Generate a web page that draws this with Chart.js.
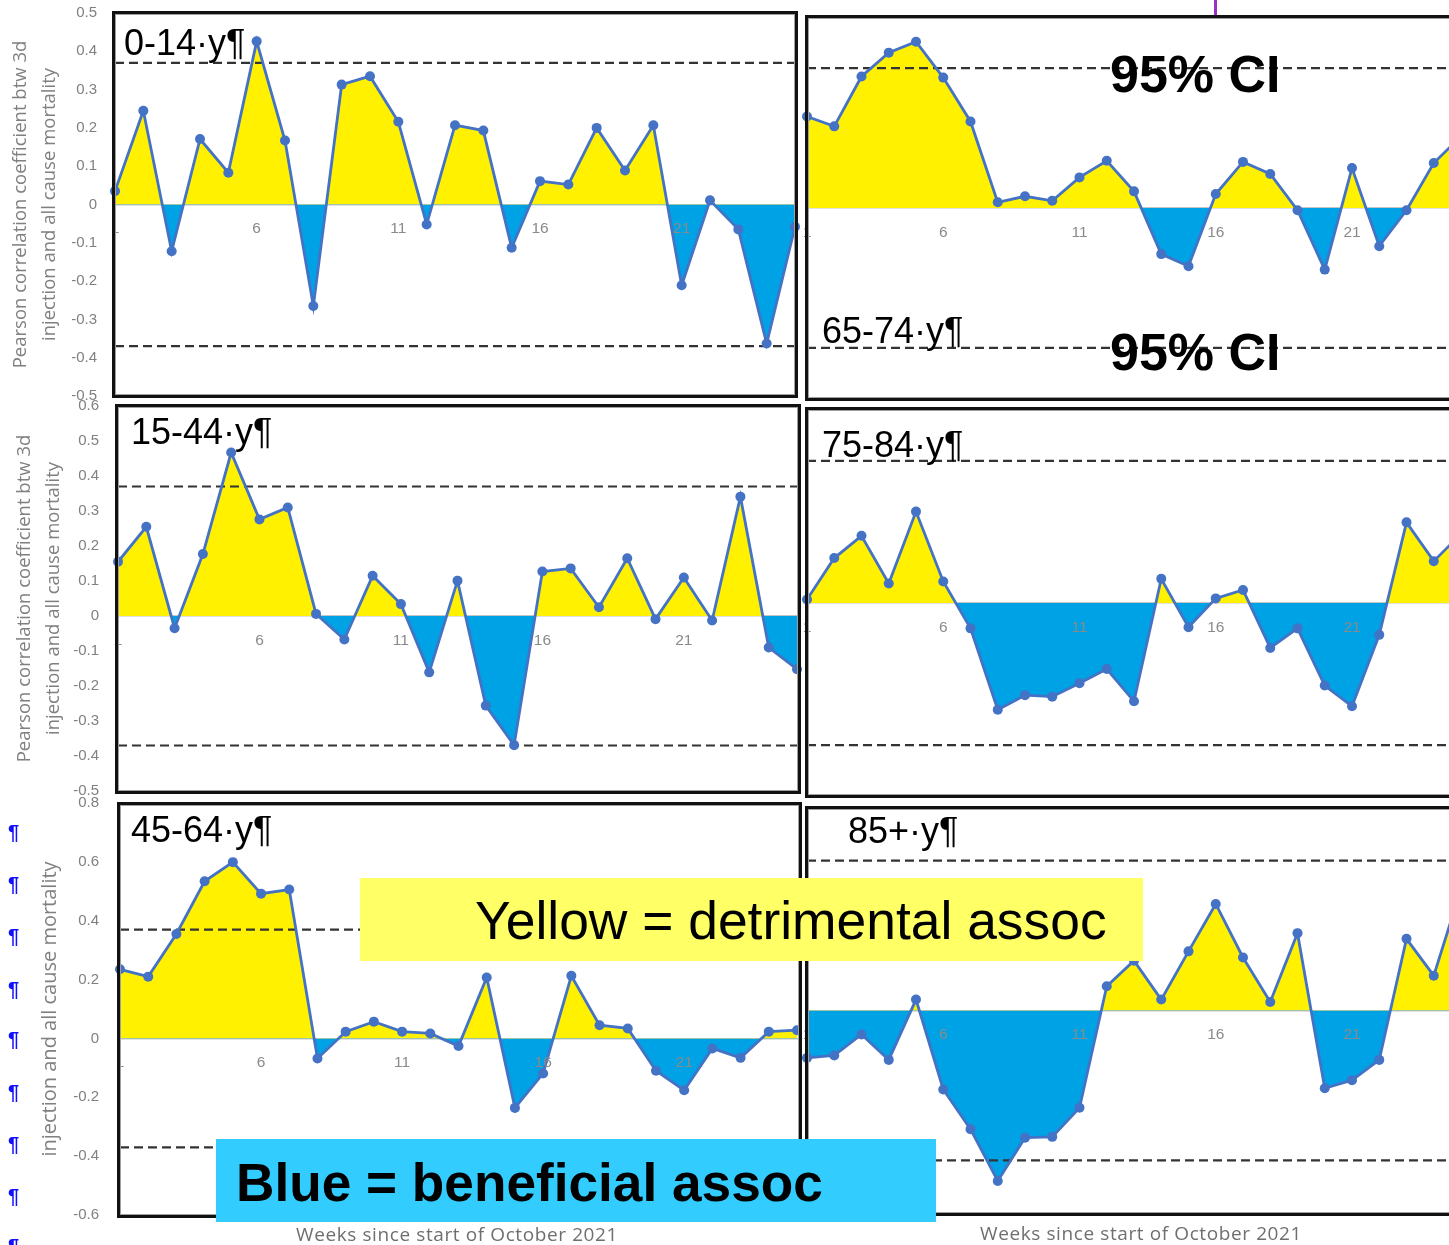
<!DOCTYPE html>
<html>
<head>
<meta charset="utf-8">
<script src="https://cdn.jsdelivr.net/npm/chart.js@4"></script>
<style>
  html, body { margin: 0; padding: 0; width: 1449px; height: 1245px; overflow: hidden; background: #fff; }
  canvas { position: absolute; z-index: 1; }
  .frame { position: absolute; border: 3px solid #111; box-sizing: border-box; box-shadow: inset 0 0 0 1px #a0a0a0; z-index: 2; }
  .txt { position: absolute; white-space: nowrap; line-height: 1; font-family: "Liberation Sans", Arial, sans-serif; z-index: 3; }
  .age { font-size: 36px; color: #000; }
  .ci { font-size: 52px; font-weight: bold; color: #000; }
  .box { position: absolute; z-index: 4; }
  .pil { position: absolute; left: 8px; font: bold 20px "Liberation Sans", Arial, sans-serif; color: #1010ff; line-height: 1; z-index: 3; }
  .xtitle { position: absolute; font: 19px "Open Sans", sans-serif; letter-spacing: 0.6px; color: #6f6f6f; white-space: nowrap; line-height: 1; z-index: 3; }
</style>
</head>
<body>
<script>
// weeks since start of October 2021
const weeks = ["1","2","3","4","5","6","7","8","9","10","11","12","13","14","15","16","17","18","19","20","21","22","23","24","25"];

// Pearson correlation per age group
const age0to14 = [0.035, 0.245, -0.122, 0.171, 0.083, 0.426, 0.167, -0.265, 0.313, 0.335, 0.216, -0.052, 0.207,
  0.193, -0.113, 0.061, 0.052, 0.2, 0.089, 0.207, -0.211, 0.011, -0.065, -0.363, -0.058];
const age15to44 = [0.155, 0.255, -0.035, 0.177, 0.467, 0.276, 0.31, 0.006, -0.067, 0.115, 0.034, -0.161, 0.101,
  -0.256, -0.369, 0.127, 0.136, 0.025, 0.165, -0.009, 0.11, -0.013, 0.341, -0.09, -0.152];
const age45to64 = [0.235, 0.21, 0.355, 0.534, 0.599, 0.492, 0.506, -0.068, 0.023, 0.057, 0.023, 0.017, -0.026,
  0.207, -0.236, -0.119, 0.213, 0.045, 0.034, -0.11, -0.176, -0.034, -0.066, 0.023, 0.028];
const age65to74 = [0.242, 0.216, 0.348, 0.411, 0.44, 0.345, 0.229, 0.015, 0.031, 0.019, 0.081, 0.125, 0.044,
  -0.122, -0.154, 0.037, 0.122, 0.09, -0.006, -0.163, 0.106, -0.101, -0.006, 0.119, 0.19];
const age75to84 = [0.009, 0.117, 0.175, 0.051, 0.238, 0.056, -0.066, -0.278, -0.24, -0.244, -0.209, -0.172, -0.256,
  0.063, -0.063, 0.012, 0.034, -0.117, -0.066, -0.215, -0.269, -0.083, 0.21, 0.109, 0.18];
const age85plus = [-0.117, -0.111, -0.059, -0.122, 0.027, -0.195, -0.293, -0.421, -0.314, -0.312, -0.24, 0.06, 0.123,
  0.027, 0.146, 0.263, 0.131, 0.021, 0.191, -0.192, -0.172, -0.122, 0.177, 0.086, 0.3];

// 95% confidence limit (+/-)
const ciUpper = [0.37, 0.37, 0.37, 0.37, 0.37, 0.37, 0.37, 0.37, 0.37, 0.37, 0.37, 0.37, 0.37,
  0.37, 0.37, 0.37, 0.37, 0.37, 0.37, 0.37, 0.37, 0.37, 0.37, 0.37, 0.37];
const ciLower = [-0.37, -0.37, -0.37, -0.37, -0.37, -0.37, -0.37, -0.37, -0.37, -0.37, -0.37, -0.37, -0.37,
  -0.37, -0.37, -0.37, -0.37, -0.37, -0.37, -0.37, -0.37, -0.37, -0.37, -0.37, -0.37];

const lineBlue = "#4472c4";
const fillYellow = "#fff100";
const fillBlue = "#00a2e6";
const greyText = "#808080";
const titleLines = ["Pearson correlation coefficient btw 3d", "injection and all cause mortality"];

const panels = [
  { values: age0to14, left: 0, top: 3, width: 800, height: 403, min: -0.5, max: 0.5, step: 0.1,
    axisWidth: 115, tickPad: 18, title: titleLines, titlePad: 6, titleSize: 18.5 },
  { values: age65to74, left: 801, top: 9, width: 665, height: 398, min: -0.5, max: 0.5 },
  { values: age15to44, left: 0, top: 396, width: 802, height: 405, min: -0.5, max: 0.6, step: 0.1,
    axisWidth: 118, tickPad: 19, title: titleLines, titlePad: 10, titleSize: 18.5 },
  { values: age75to84, left: 801, top: 401, width: 665, height: 404, min: -0.5, max: 0.5 },
  { values: age45to64, left: 0, top: 793, width: 802, height: 432, min: -0.6, max: 0.8, step: 0.2,
    axisWidth: 120, tickPad: 21, title: [titleLines[1]], titlePad: 36, titleSize: 20 },
  { values: age85plus, left: 801, top: 798, width: 665, height: 425, min: -0.5, max: 0.5 }
];

function makePanel(p) {
  const canvas = document.createElement("canvas");
  canvas.width = p.width;
  canvas.height = p.height;
  canvas.style.left = p.left + "px";
  canvas.style.top = p.top + "px";
  document.body.appendChild(canvas);

  const hasAxis = !!p.axisWidth;

  new Chart(canvas, {
    type: "line",
    data: {
      labels: weeks,
      datasets: [
        {
          data: p.values,
          borderColor: lineBlue,
          backgroundColor: lineBlue,
          borderWidth: 2.8,
          pointRadius: 5,
          pointBorderWidth: 0,
          pointBackgroundColor: lineBlue,
          tension: 0,
          fill: { target: "origin", above: fillYellow, below: fillBlue },
          order: 0,
        },
        {
          data: ciUpper,
          borderColor: "#333333",
          borderWidth: 2.2,
          borderDash: [9, 5],
          pointRadius: 0,
          fill: false,
          order: 1,
        },
        {
          data: ciLower,
          borderColor: "#333333",
          borderWidth: 2.2,
          borderDash: [9, 5],
          pointRadius: 0,
          fill: false,
          order: 1,
        },
      ],
    },
    options: {
      responsive: false,
      animation: false,
      events: [],
      layout: { padding: { top: 10, bottom: 10, left: hasAxis ? 0 : 6, right: 0 } },
      plugins: {
        legend: { display: false },
        tooltip: { enabled: false },
        filler: { drawTime: "beforeDatasetsDraw" }, // dashed CI lines go on top of the fill
      },
      scales: {
        x: {
          type: "category",
          position: { y: 0 }, // axis crosses at zero like in Excel
          grid: { display: false, drawTicks: false },
          border: { display: true, color: "#c4c4c4", width: 1.5 },
          ticks: {
            z: 1, // week labels stay visible over the fill
            autoSkip: false,
            maxRotation: 0,
            padding: 15,
            color: "#8a8a8a",
            font: { family: "Liberation Sans", size: 15.5 },
            callback: function (v, i) {
              return i % 5 === 0 ? this.getLabelForValue(v) : "";
            },
          },
          afterFit(scale) {
            scale.paddingLeft = 0;
            scale.paddingRight = 0;
          },
        },
        y: {
          display: hasAxis,
          min: p.min,
          max: p.max,
          grid: { display: false, drawTicks: false },
          border: { display: false },
          ticks: {
            stepSize: p.step || 0.1,
            padding: p.tickPad || 0,
            color: greyText,
            font: { family: "Liberation Sans", size: 15 },
            callback: (v) => String(+v.toFixed(1)),
          },
          title: {
            display: hasAxis,
            text: p.title || "",
            color: greyText,
            font: { family: "Open Sans", size: p.titleSize || 18, lineHeight: 29 / (p.titleSize || 18) },
            padding: { top: p.titlePad || 0, bottom: 0 },
          },
          afterFit(scale) {
            if (hasAxis) scale.width = p.axisWidth;
            scale.paddingTop = 0;
            scale.paddingBottom = 0;
          },
        },
      },
    },
  });
}

panels.forEach(makePanel);

// frames round each chart
const frames = [
  [112, 11, 798, 398], [805, 15, 1475, 401],
  [115, 404, 801, 794], [805, 407, 1475, 798],
  [117, 802, 802, 1218], [805, 806, 1475, 1216]
];
frames.forEach(([l, t, r, b]) => {
  const d = document.createElement("div");
  d.className = "frame";
  Object.assign(d.style, { left: l + "px", top: t + "px", width: (r - l) + "px", height: (b - t) + "px" });
  document.body.appendChild(d);
});

function addText(cls, text, left, top, extra) {
  const d = document.createElement("div");
  d.className = cls;
  d.textContent = text;
  d.style.left = left + "px";
  d.style.top = top + "px";
  if (extra) Object.assign(d.style, extra);
  document.body.appendChild(d);
  return d;
}

// age group labels
addText("txt age", "0-14\u00b7y\u00b6", 124, 25);
addText("txt age", "65-74\u00b7y\u00b6", 822, 313);
addText("txt age", "15-44\u00b7y\u00b6", 131, 414);
addText("txt age", "75-84\u00b7y\u00b6", 822, 427);
addText("txt age", "45-64\u00b7y\u00b6", 131, 812);
addText("txt age", "85+\u00b7y\u00b6", 848, 813);

addText("txt ci", "95% CI", 1110, 48);
addText("txt ci", "95% CI", 1110, 326);

// legend boxes
const yBox = document.createElement("div");
yBox.className = "box";
Object.assign(yBox.style, { left: "360px", top: "878px", width: "783px", height: "83px", background: "#ffff66" });
document.body.appendChild(yBox);
addText("txt", "Yellow = detrimental assoc", 475, 894, { fontSize: "53.4px", zIndex: 5 });

const bBox = document.createElement("div");
bBox.className = "box";
Object.assign(bBox.style, { left: "216px", top: "1139px", width: "720px", height: "83px", background: "#33ccff" });
document.body.appendChild(bBox);
addText("txt", "Blue = beneficial assoc", 236, 1156, { fontSize: "53.2px", fontWeight: "bold", zIndex: 5 });

// x axis titles
addText("xtitle", "Weeks since start of October 2021", 296, 1225);
addText("xtitle", "Weeks since start of October 2021", 980, 1224);

// paragraph marks from the document on the left
[822, 874, 926, 979, 1029, 1082, 1134, 1186, 1236].forEach((y) => addText("pil", "\u00b6", 8, y));

// small purple mark at the top
const purple = document.createElement("div");
Object.assign(purple.style, { position: "absolute", left: "1214px", top: "0px", width: "3px", height: "15px", background: "#9b30c8", zIndex: 3 });
document.body.appendChild(purple);
</script>
</body>
</html>
